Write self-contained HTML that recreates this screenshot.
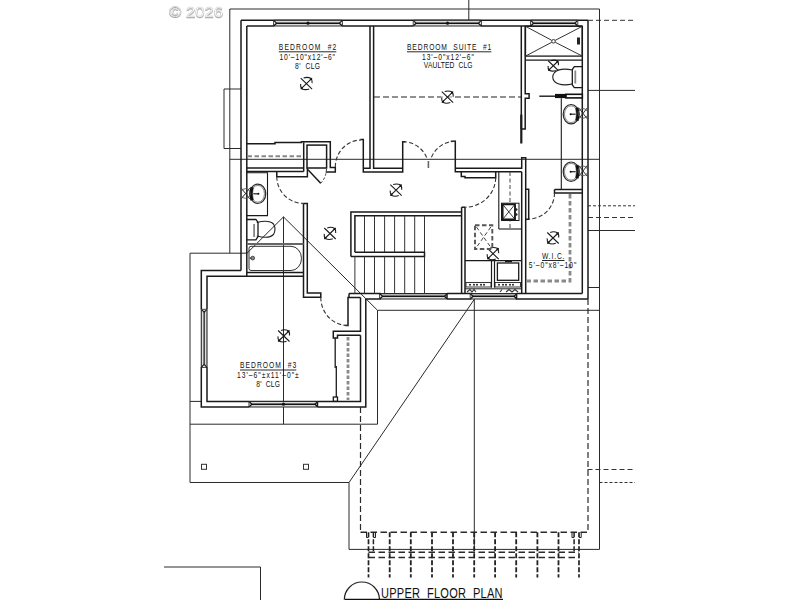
<!DOCTYPE html>
<html><head><meta charset="utf-8"><style>
html,body{margin:0;padding:0;background:#fff;width:800px;height:600px;overflow:hidden}
svg{position:absolute;left:0;top:0}
text{font-family:"Liberation Sans",sans-serif}
</style></head><body>
<svg width="800" height="600" viewBox="0 0 800 600">
<polyline points="190,482.5 190,253.2 229.8,253.2 229.8,9 599.5,9 599.5,549.4 349,549.4 349,482.5 190,482.5" fill="none" stroke="#2a2a2a" stroke-width="1.0"/>
<line x1="349" y1="482.5" x2="474.3" y2="299.3" stroke="#2a2a2a" stroke-width="1.0"/>
<line x1="229.8" y1="159.3" x2="599.5" y2="159.3" stroke="#2a2a2a" stroke-width="1.0"/>
<line x1="229.8" y1="253.2" x2="247" y2="253.2" stroke="#2a2a2a" stroke-width="1.0"/>
<polyline points="247,253.2 283.5,216.9 377.5,310.3" fill="none" stroke="#2a2a2a" stroke-width="1.0"/>
<line x1="283.5" y1="216.9" x2="283.5" y2="424.2" stroke="#2a2a2a" stroke-width="1.0"/>
<line x1="190" y1="424.2" x2="377.5" y2="424.2" stroke="#2a2a2a" stroke-width="1.0"/>
<line x1="377.5" y1="424.2" x2="377.5" y2="310.3" stroke="#2a2a2a" stroke-width="1.0"/>
<line x1="377.5" y1="310.3" x2="599.5" y2="310.3" stroke="#2a2a2a" stroke-width="1.0"/>
<line x1="588" y1="287.5" x2="599.5" y2="287.5" stroke="#2a2a2a" stroke-width="1.0"/>
<line x1="474.3" y1="299.3" x2="474.3" y2="549.4" stroke="#2a2a2a" stroke-width="1.0"/>
<line x1="468.8" y1="0" x2="468.8" y2="20.3" stroke="#2a2a2a" stroke-width="1.0"/>
<line x1="190" y1="401.4" x2="201.4" y2="401.4" stroke="#2a2a2a" stroke-width="1.0"/>
<line x1="229.8" y1="148.5" x2="241" y2="148.5" stroke="#2a2a2a" stroke-width="1.0"/>
<polyline points="241,89 224,89 224,148.5 241,148.5" fill="none" stroke="#2a2a2a" stroke-width="1.0"/>
<line x1="588" y1="90.4" x2="635" y2="90.4" stroke="#2a2a2a" stroke-width="1.0"/>
<line x1="588" y1="230.5" x2="635" y2="230.5" stroke="#2a2a2a" stroke-width="1.0"/>
<line x1="588" y1="20.3" x2="635" y2="20.3" stroke="#333" stroke-width="1.0" stroke-dasharray="5,3"/>
<line x1="588" y1="205.8" x2="635" y2="205.8" stroke="#333" stroke-width="1.0" stroke-dasharray="3,2"/>
<line x1="588" y1="217.5" x2="635" y2="217.5" stroke="#333" stroke-width="1.0" stroke-dasharray="5,3"/>
<line x1="587.5" y1="469.5" x2="635" y2="469.5" stroke="#333" stroke-width="1.0" stroke-dasharray="5,3"/>
<line x1="599.5" y1="482.5" x2="635" y2="482.5" stroke="#333" stroke-width="1.0" stroke-dasharray="3,2"/>
<polyline points="164,567 260.5,567 260.5,600" fill="none" stroke="#2a2a2a" stroke-width="1.0"/>
<line x1="241" y1="20.3" x2="588" y2="20.3" stroke="#1a1a1a" stroke-width="1.5"/>
<line x1="246.8" y1="26" x2="274" y2="26" stroke="#1a1a1a" stroke-width="1.5"/>
<line x1="274" y1="20.3" x2="274" y2="26" stroke="#1a1a1a" stroke-width="1.5"/>
<line x1="342" y1="26" x2="413.5" y2="26" stroke="#1a1a1a" stroke-width="1.5"/>
<line x1="342" y1="20.3" x2="342" y2="26" stroke="#1a1a1a" stroke-width="1.5"/>
<line x1="413.5" y1="20.3" x2="413.5" y2="26" stroke="#1a1a1a" stroke-width="1.5"/>
<line x1="481" y1="26" x2="531" y2="26" stroke="#1a1a1a" stroke-width="1.5"/>
<line x1="481" y1="20.3" x2="481" y2="26" stroke="#1a1a1a" stroke-width="1.5"/>
<line x1="531" y1="20.3" x2="531" y2="26" stroke="#1a1a1a" stroke-width="1.5"/>
<line x1="577.5" y1="26" x2="582.3" y2="26" stroke="#1a1a1a" stroke-width="1.5"/>
<line x1="577.5" y1="20.3" x2="577.5" y2="26" stroke="#1a1a1a" stroke-width="1.5"/>
<rect x="274" y="20.3" width="68" height="5.699999999999999" rx="0" fill="#dcdcdc" stroke="none" stroke-width="0"/>
<line x1="274" y1="20.3" x2="342" y2="20.3" stroke="#2a2a2a" stroke-width="1.1"/>
<line x1="274" y1="26" x2="342" y2="26" stroke="#2a2a2a" stroke-width="1.1"/>
<line x1="276.5" y1="23.15" x2="339.5" y2="23.15" stroke="#111" stroke-width="1.5"/>
<polyline points="274,20.6 276.6,23.15 274,25.7" fill="none" stroke="#111" stroke-width="1.2"/>
<polyline points="342,20.6 339.4,23.15 342,25.7" fill="none" stroke="#111" stroke-width="1.2"/>
<rect x="413.5" y="20.3" width="67.5" height="5.699999999999999" rx="0" fill="#dcdcdc" stroke="none" stroke-width="0"/>
<line x1="413.5" y1="20.3" x2="481" y2="20.3" stroke="#2a2a2a" stroke-width="1.1"/>
<line x1="413.5" y1="26" x2="481" y2="26" stroke="#2a2a2a" stroke-width="1.1"/>
<line x1="416.0" y1="23.15" x2="478.5" y2="23.15" stroke="#111" stroke-width="1.5"/>
<polyline points="413.5,20.6 416.1,23.15 413.5,25.7" fill="none" stroke="#111" stroke-width="1.2"/>
<polyline points="481,20.6 478.4,23.15 481,25.7" fill="none" stroke="#111" stroke-width="1.2"/>
<rect x="531" y="20.3" width="46.5" height="5.699999999999999" rx="0" fill="#dcdcdc" stroke="none" stroke-width="0"/>
<line x1="531" y1="20.3" x2="577.5" y2="20.3" stroke="#2a2a2a" stroke-width="1.1"/>
<line x1="531" y1="26" x2="577.5" y2="26" stroke="#2a2a2a" stroke-width="1.1"/>
<line x1="533.5" y1="23.15" x2="575.0" y2="23.15" stroke="#111" stroke-width="1.5"/>
<polyline points="531,20.6 533.6,23.15 531,25.7" fill="none" stroke="#111" stroke-width="1.2"/>
<polyline points="577.5,20.6 574.9,23.15 577.5,25.7" fill="none" stroke="#111" stroke-width="1.2"/>
<line x1="241" y1="20.3" x2="241" y2="270.6" stroke="#1a1a1a" stroke-width="1.5"/>
<line x1="246.8" y1="26" x2="246.8" y2="276" stroke="#1a1a1a" stroke-width="1.5"/>
<line x1="588" y1="20.3" x2="588" y2="299" stroke="#1a1a1a" stroke-width="1.5"/>
<line x1="582.3" y1="26" x2="582.3" y2="293.4" stroke="#1a1a1a" stroke-width="1.5"/>
<polyline points="241,270.6 201.3,270.6 201.3,309.6" fill="none" stroke="#1a1a1a" stroke-width="1.5"/>
<polyline points="201.3,367 201.3,407 249.3,407" fill="none" stroke="#1a1a1a" stroke-width="1.5"/>
<polyline points="303.5,276.3 207,276.3 207,309.6" fill="none" stroke="#1a1a1a" stroke-width="1.5"/>
<polyline points="207,367 207,401.4 249.3,401.4" fill="none" stroke="#1a1a1a" stroke-width="1.5"/>
<line x1="201.3" y1="309.6" x2="207" y2="309.6" stroke="#1a1a1a" stroke-width="1.5"/>
<line x1="201.3" y1="367" x2="207" y2="367" stroke="#1a1a1a" stroke-width="1.5"/>
<rect x="201.3" y="309.6" width="5.699999999999989" height="57.39999999999998" rx="0" fill="#dcdcdc" stroke="none" stroke-width="0"/>
<line x1="201.3" y1="309.6" x2="201.3" y2="367" stroke="#2a2a2a" stroke-width="1.1"/>
<line x1="207" y1="309.6" x2="207" y2="367" stroke="#2a2a2a" stroke-width="1.1"/>
<line x1="204.15" y1="312.1" x2="204.15" y2="364.5" stroke="#222" stroke-width="1.3"/>
<polyline points="201.60000000000002,309.6 204.15,312.20000000000005 206.7,309.6" fill="none" stroke="#222" stroke-width="1.1"/>
<polyline points="201.60000000000002,367 204.15,364.4 206.7,367" fill="none" stroke="#222" stroke-width="1.1"/>
<polyline points="249.3,401.4 249.3,407" fill="none" stroke="#1a1a1a" stroke-width="1.5"/>
<rect x="249.3" y="401.4" width="68.19999999999999" height="5.600000000000023" rx="0" fill="#dcdcdc" stroke="none" stroke-width="0"/>
<line x1="249.3" y1="401.4" x2="317.5" y2="401.4" stroke="#2a2a2a" stroke-width="1.1"/>
<line x1="249.3" y1="407" x2="317.5" y2="407" stroke="#2a2a2a" stroke-width="1.1"/>
<line x1="251.8" y1="404.2" x2="315.0" y2="404.2" stroke="#111" stroke-width="1.5"/>
<polyline points="249.3,401.7 251.9,404.2 249.3,406.7" fill="none" stroke="#111" stroke-width="1.2"/>
<polyline points="317.5,401.7 314.9,404.2 317.5,406.7" fill="none" stroke="#111" stroke-width="1.2"/>
<polyline points="317.5,401.4 317.5,407" fill="none" stroke="#1a1a1a" stroke-width="1.5"/>
<polyline points="317.5,407 365.8,407 365.8,299" fill="none" stroke="#1a1a1a" stroke-width="1.5"/>
<polyline points="317.5,401.4 360.5,401.4 360.5,335.3" fill="none" stroke="#1a1a1a" stroke-width="1.5"/>
<polyline points="349,293.6 380,293.6 380,299 365.8,299" fill="none" stroke="#1a1a1a" stroke-width="1.5"/>
<rect x="380" y="293.6" width="67" height="5.399999999999977" rx="0" fill="#dcdcdc" stroke="none" stroke-width="0"/>
<line x1="380" y1="293.6" x2="447" y2="293.6" stroke="#2a2a2a" stroke-width="1.1"/>
<line x1="380" y1="299" x2="447" y2="299" stroke="#2a2a2a" stroke-width="1.1"/>
<line x1="382.5" y1="296.3" x2="444.5" y2="296.3" stroke="#111" stroke-width="1.5"/>
<polyline points="380,293.90000000000003 382.6,296.3 380,298.7" fill="none" stroke="#111" stroke-width="1.2"/>
<polyline points="447,293.90000000000003 444.4,296.3 447,298.7" fill="none" stroke="#111" stroke-width="1.2"/>
<polyline points="447,293.6 447,299" fill="none" stroke="#1a1a1a" stroke-width="1.5"/>
<polyline points="447,293.6 470.5,293.6 470.5,299 447,299" fill="none" stroke="#1a1a1a" stroke-width="1.5"/>
<rect x="470.5" y="293.6" width="46.10000000000002" height="5.399999999999977" rx="0" fill="#dcdcdc" stroke="none" stroke-width="0"/>
<line x1="470.5" y1="293.6" x2="516.6" y2="293.6" stroke="#2a2a2a" stroke-width="1.1"/>
<line x1="470.5" y1="299" x2="516.6" y2="299" stroke="#2a2a2a" stroke-width="1.1"/>
<line x1="473.0" y1="296.3" x2="514.1" y2="296.3" stroke="#111" stroke-width="1.5"/>
<polyline points="470.5,293.90000000000003 473.1,296.3 470.5,298.7" fill="none" stroke="#111" stroke-width="1.2"/>
<polyline points="516.6,293.90000000000003 514.0,296.3 516.6,298.7" fill="none" stroke="#111" stroke-width="1.2"/>
<polyline points="516.6,293.6 516.6,299 588,299" fill="none" stroke="#1a1a1a" stroke-width="1.5"/>
<polyline points="516.6,293.6 582.3,293.6" fill="none" stroke="#1a1a1a" stroke-width="1.5"/>
<polyline points="360.4,139.6 363.3,139.6 363.3,172.1 402.7,172.1 402.7,141.7 405.5,141.7" fill="none" stroke="#1a1a1a" stroke-width="1.5"/>
<polyline points="363.3,168.3 370,168.3 370,26" fill="none" stroke="#1a1a1a" stroke-width="1.5"/>
<polyline points="373.6,26 373.6,168.3 402.7,168.3" fill="none" stroke="#1a1a1a" stroke-width="1.5"/>
<polyline points="450.8,141.3 455.3,141.3 455.3,171.8 521.7,171.8" fill="none" stroke="#1a1a1a" stroke-width="1.5"/>
<polyline points="455.3,168.3 521.7,168.3 521.7,157.8 525.7,157.8 525.7,293.6" fill="none" stroke="#1a1a1a" stroke-width="1.5"/>
<polyline points="525.7,189.3 528.7,189.3 528.7,219.3 525.7,219.3" fill="none" stroke="#1a1a1a" stroke-width="1.5"/>
<polyline points="461.3,171.8 461.3,176.6 465,176.6 465,177.7 495.7,177.7 495.7,171.8" fill="none" stroke="#1a1a1a" stroke-width="1.5"/>
<polyline points="521.3,26 521.3,129" fill="none" stroke="#1a1a1a" stroke-width="1.5"/>
<polyline points="525.2,26 525.2,93.8 529.1,93.8 529.1,98.3 525.2,98.3 525.2,129 521.3,129" fill="none" stroke="#1a1a1a" stroke-width="1.5"/>
<line x1="521.3" y1="114.6" x2="521.3" y2="143.5" stroke="#1a1a1a" stroke-width="2.2"/>
<line x1="521.7" y1="171.8" x2="521.7" y2="293.6" stroke="#1a1a1a" stroke-width="1.5"/>
<polyline points="461.6,207.2 461.6,293.6" fill="none" stroke="#1a1a1a" stroke-width="1.5"/>
<polyline points="465,207.2 461.6,207.2" fill="none" stroke="#1a1a1a" stroke-width="1.5"/>
<polyline points="465,207.2 465,293.6" fill="none" stroke="#1a1a1a" stroke-width="1.5"/>
<polyline points="554.5,189.5 582.3,189.5" fill="none" stroke="#1a1a1a" stroke-width="1.5"/>
<polyline points="554.5,189.5 554.5,193 582.3,193" fill="none" stroke="#1a1a1a" stroke-width="1.5"/>
<polyline points="246.8,143.7 275,143.7 275,142.6 301.4,142.6 301.4,141.7 330.3,141.7 330.3,167.5 335.3,167.5 335.3,172.1 325.7,172.1" fill="none" stroke="#1a1a1a" stroke-width="1.5"/>
<rect x="307" y="145.1" width="19.6" height="22.9" rx="0" fill="none" stroke="#1a1a1a" stroke-width="1.5"/>
<polyline points="303.7,142.3 303.7,171.5" fill="none" stroke="#1a1a1a" stroke-width="1.5"/>
<polyline points="246.8,168 303.7,168" fill="none" stroke="#1a1a1a" stroke-width="1.5"/>
<polyline points="246.8,171.5 303.7,171.5" fill="none" stroke="#1a1a1a" stroke-width="1.5"/>
<polyline points="276.8,171.5 276.8,176.7 307.4,176.7 307.4,168" fill="none" stroke="#1a1a1a" stroke-width="1.5"/>
<line x1="247.5" y1="156.3" x2="302" y2="156.3" stroke="#888" stroke-width="2.0" stroke-dasharray="4.5,2.5"/>
<polyline points="303.5,203.4 303.5,297.2 320.8,297.2 320.8,293 307.3,293 307.3,203.4 303.5,203.4" fill="none" stroke="#1a1a1a" stroke-width="1.5"/>
<polyline points="345.3,325.5 348,325.5 348,297.5 360.5,297.5" fill="none" stroke="#1a1a1a" stroke-width="1.5"/>
<polyline points="349,293.6 349,297.5" fill="none" stroke="#1a1a1a" stroke-width="1.5"/>
<polyline points="360.5,297.5 360.5,331.2 333.3,331.2 333.3,338 337.5,338 337.5,335.3 360.5,335.3" fill="none" stroke="#1a1a1a" stroke-width="1.5"/>
<rect x="333.3" y="397" width="4.2" height="4.4" rx="0" fill="none" stroke="#1a1a1a" stroke-width="1.3"/>
<line x1="335.2" y1="338" x2="335.2" y2="368" stroke="#1a1a1a" stroke-width="1.3"/>
<line x1="336.3" y1="366" x2="336.3" y2="397" stroke="#1a1a1a" stroke-width="1.3"/>
<line x1="348" y1="337" x2="348" y2="400" stroke="#8a8a8a" stroke-width="2.8" stroke-dasharray="3.5,2"/>
<polyline points="246.5,272.4 303.5,272.4" fill="none" stroke="#1a1a1a" stroke-width="1.5"/>
<path d="M 276.8 176.7 A 26.7 26.7 0 0 0 303.5 203.4" fill="none" stroke="#333" stroke-width="1.1" stroke-dasharray="4.2,2.3"/>
<path d="M 335.3 167 A 26 27 0 0 1 361 140" fill="none" stroke="#333" stroke-width="1.1" stroke-dasharray="4.2,2.3"/>
<path d="M 402.7 141.7 A 26 26 0 0 1 427.4 159.5" fill="none" stroke="#333" stroke-width="1.1" stroke-dasharray="4.2,2.3"/>
<path d="M 455.3 141.3 A 26 26 0 0 0 430.6 159.5" fill="none" stroke="#333" stroke-width="1.1" stroke-dasharray="4.2,2.3"/>
<line x1="428.4" y1="161" x2="428.4" y2="168" stroke="#666" stroke-width="1.6"/>
<path d="M 495.7 177.7 A 30.7 30 0 0 1 465 207.2" fill="none" stroke="#333" stroke-width="1.1" stroke-dasharray="4.2,2.3"/>
<path d="M 320.8 297.2 A 27 28 0 0 0 347.8 325.5" fill="none" stroke="#333" stroke-width="1.1" stroke-dasharray="4.2,2.3"/>
<path d="M 554.5 193 A 25.8 26 0 0 1 528.7 219" fill="none" stroke="#333" stroke-width="1.1" stroke-dasharray="4.2,2.3"/>
<line x1="308" y1="169.8" x2="320.7" y2="183.3" stroke="#1a1a1a" stroke-width="1.5"/>
<path d="M 320.7 183.3 Q 326 178 326.5 169" fill="none" stroke="#333" stroke-width="1.0" stroke-dasharray="2.5,2"/>
<line x1="374" y1="97" x2="521" y2="97" stroke="#222" stroke-width="1.2" stroke-dasharray="6,3"/>
<line x1="441" y1="97" x2="454" y2="97" stroke="#fff" stroke-width="1.0"/>
<polyline points="350.9,256.4 350.9,211.9 461.6,211.9" fill="none" stroke="#1a1a1a" stroke-width="1.5"/>
<polyline points="354.9,252.2 354.9,215.8 461.6,215.8" fill="none" stroke="#1a1a1a" stroke-width="1.5"/>
<polyline points="350.9,256.4 424.5,256.4 424.5,252.2 354.9,252.2" fill="none" stroke="#1a1a1a" stroke-width="1.5"/>
<line x1="364.5" y1="215.8" x2="364.5" y2="252.2" stroke="#333" stroke-width="1.0"/>
<line x1="364.5" y1="256.4" x2="364.5" y2="293.6" stroke="#333" stroke-width="1.0"/>
<line x1="374.5" y1="215.8" x2="374.5" y2="252.2" stroke="#333" stroke-width="1.0"/>
<line x1="374.5" y1="256.4" x2="374.5" y2="293.6" stroke="#333" stroke-width="1.0"/>
<line x1="384.6" y1="215.8" x2="384.6" y2="252.2" stroke="#333" stroke-width="1.0"/>
<line x1="384.6" y1="256.4" x2="384.6" y2="293.6" stroke="#333" stroke-width="1.0"/>
<line x1="394.6" y1="215.8" x2="394.6" y2="252.2" stroke="#333" stroke-width="1.0"/>
<line x1="394.6" y1="256.4" x2="394.6" y2="293.6" stroke="#333" stroke-width="1.0"/>
<line x1="404.7" y1="215.8" x2="404.7" y2="252.2" stroke="#333" stroke-width="1.0"/>
<line x1="404.7" y1="256.4" x2="404.7" y2="293.6" stroke="#333" stroke-width="1.0"/>
<line x1="414.7" y1="215.8" x2="414.7" y2="252.2" stroke="#333" stroke-width="1.0"/>
<line x1="414.7" y1="256.4" x2="414.7" y2="293.6" stroke="#333" stroke-width="1.0"/>
<line x1="424.5" y1="215.8" x2="424.5" y2="252.2" stroke="#333" stroke-width="1.0"/>
<line x1="424.5" y1="256.4" x2="424.5" y2="293.6" stroke="#333" stroke-width="1.0"/>
<line x1="354.9" y1="256.4" x2="354.9" y2="293.6" stroke="#333" stroke-width="1.0"/>
<path d="M 300.7 78.1 L 312.09999999999997 89.1 M 312.09999999999997 78.1 L 300.7 89.1" fill="none" stroke="#1a1a1a" stroke-width="1.1"/>
<path d="M 303.59999999999997 78.0 Q 307.4 76.6 311.2 78.5 Q 312.4 80.3 312.09999999999997 83.1" fill="none" stroke="#1a1a1a" stroke-width="1.1"/>
<path d="M 309.2 88.89999999999999 Q 305.4 90.39999999999999 301.59999999999997 88.69999999999999 Q 300.4 86.89999999999999 300.59999999999997 84.0" fill="none" stroke="#1a1a1a" stroke-width="1.1"/>
<circle cx="310.7" cy="79.3" r="0.9" fill="#111" stroke="none" stroke-width="0"/>
<circle cx="302.09999999999997" cy="87.89999999999999" r="0.9" fill="#111" stroke="none" stroke-width="0"/>
<path d="M 441.8 91.7 L 453.2 102.7 M 453.2 91.7 L 441.8 102.7" fill="none" stroke="#1a1a1a" stroke-width="1.1"/>
<path d="M 444.7 91.60000000000001 Q 448.5 90.2 452.3 92.10000000000001 Q 453.5 93.9 453.2 96.7" fill="none" stroke="#1a1a1a" stroke-width="1.1"/>
<path d="M 450.3 102.5 Q 446.5 104.0 442.7 102.3 Q 441.5 100.5 441.7 97.60000000000001" fill="none" stroke="#1a1a1a" stroke-width="1.1"/>
<circle cx="451.8" cy="92.9" r="0.9" fill="#111" stroke="none" stroke-width="0"/>
<circle cx="443.2" cy="101.5" r="0.9" fill="#111" stroke="none" stroke-width="0"/>
<path d="M 390.3 184.7 L 401.7 195.7 M 401.7 184.7 L 390.3 195.7" fill="none" stroke="#1a1a1a" stroke-width="1.1"/>
<path d="M 393.2 184.6 Q 397.0 183.2 400.8 185.1 Q 402.0 186.89999999999998 401.7 189.7" fill="none" stroke="#1a1a1a" stroke-width="1.1"/>
<path d="M 398.8 195.5 Q 395.0 197.0 391.2 195.29999999999998 Q 390.0 193.5 390.2 190.6" fill="none" stroke="#1a1a1a" stroke-width="1.1"/>
<circle cx="400.3" cy="185.89999999999998" r="0.9" fill="#111" stroke="none" stroke-width="0"/>
<circle cx="391.7" cy="194.5" r="0.9" fill="#111" stroke="none" stroke-width="0"/>
<path d="M 324.3 228.0 L 335.7 239.0 M 335.7 228.0 L 324.3 239.0" fill="none" stroke="#1a1a1a" stroke-width="1.1"/>
<path d="M 327.2 227.9 Q 331.0 226.5 334.8 228.4 Q 336.0 230.2 335.7 233.0" fill="none" stroke="#1a1a1a" stroke-width="1.1"/>
<path d="M 332.8 238.8 Q 329.0 240.3 325.2 238.6 Q 324.0 236.8 324.2 233.9" fill="none" stroke="#1a1a1a" stroke-width="1.1"/>
<circle cx="334.3" cy="229.2" r="0.9" fill="#111" stroke="none" stroke-width="0"/>
<circle cx="325.7" cy="237.8" r="0.9" fill="#111" stroke="none" stroke-width="0"/>
<path d="M 547.3 232.5 L 558.7 243.5 M 558.7 232.5 L 547.3 243.5" fill="none" stroke="#1a1a1a" stroke-width="1.1"/>
<path d="M 550.2 232.4 Q 554.0 231.0 557.8 232.9 Q 559.0 234.7 558.7 237.5" fill="none" stroke="#1a1a1a" stroke-width="1.1"/>
<path d="M 555.8 243.3 Q 552.0 244.8 548.2 243.1 Q 547.0 241.3 547.2 238.4" fill="none" stroke="#1a1a1a" stroke-width="1.1"/>
<circle cx="557.3" cy="233.7" r="0.9" fill="#111" stroke="none" stroke-width="0"/>
<circle cx="548.7" cy="242.3" r="0.9" fill="#111" stroke="none" stroke-width="0"/>
<path d="M 487.3 248.2 L 498.7 259.2 M 498.7 248.2 L 487.3 259.2" fill="none" stroke="#1a1a1a" stroke-width="1.1"/>
<path d="M 490.2 248.1 Q 494.0 246.7 497.8 248.6 Q 499.0 250.39999999999998 498.7 253.2" fill="none" stroke="#1a1a1a" stroke-width="1.1"/>
<path d="M 495.8 259.0 Q 492.0 260.5 488.2 258.8 Q 487.0 257.0 487.2 254.1" fill="none" stroke="#1a1a1a" stroke-width="1.1"/>
<circle cx="497.3" cy="249.39999999999998" r="0.9" fill="#111" stroke="none" stroke-width="0"/>
<circle cx="488.7" cy="258.0" r="0.9" fill="#111" stroke="none" stroke-width="0"/>
<path d="M 278.1 330.5 L 289.5 341.5 M 289.5 330.5 L 278.1 341.5" fill="none" stroke="#1a1a1a" stroke-width="1.1"/>
<path d="M 281.0 330.4 Q 284.8 329.0 288.6 330.9 Q 289.8 332.7 289.5 335.5" fill="none" stroke="#1a1a1a" stroke-width="1.1"/>
<path d="M 286.6 341.3 Q 282.8 342.8 279.0 341.1 Q 277.8 339.3 278.0 336.4" fill="none" stroke="#1a1a1a" stroke-width="1.1"/>
<circle cx="288.1" cy="331.7" r="0.9" fill="#111" stroke="none" stroke-width="0"/>
<circle cx="279.5" cy="340.3" r="0.9" fill="#111" stroke="none" stroke-width="0"/>
<path d="M 548.17 60.75 L 558.43 70.65 M 558.43 60.75 L 548.17 70.65" fill="none" stroke="#1a1a1a" stroke-width="1.1"/>
<path d="M 550.78 60.660000000000004 Q 554.1999999999999 59.400000000000006 557.62 61.11 Q 558.6999999999999 62.730000000000004 558.43 65.25" fill="none" stroke="#1a1a1a" stroke-width="1.1"/>
<path d="M 555.8199999999999 70.47 Q 552.4 71.82000000000001 548.9799999999999 70.29 Q 547.9 68.67 548.0799999999999 66.06" fill="none" stroke="#1a1a1a" stroke-width="1.1"/>
<circle cx="557.17" cy="61.830000000000005" r="0.81" fill="#111" stroke="none" stroke-width="0"/>
<circle cx="549.43" cy="69.57000000000001" r="0.81" fill="#111" stroke="none" stroke-width="0"/>
<rect x="525.5" y="26.3" width="56.8" height="29.8" rx="0" fill="none" stroke="#1a1a1a" stroke-width="1.3"/>
<line x1="525.5" y1="60.1" x2="582.3" y2="60.1" stroke="#1a1a1a" stroke-width="1.3"/>
<line x1="525.5" y1="26.3" x2="551.7" y2="40.3" stroke="#333" stroke-width="1.0"/>
<line x1="582.3" y1="26.3" x2="555.3" y2="40.3" stroke="#333" stroke-width="1.0"/>
<line x1="525.5" y1="56.1" x2="551.7" y2="42.3" stroke="#333" stroke-width="1.0"/>
<line x1="582.3" y1="56.1" x2="555.3" y2="42.3" stroke="#333" stroke-width="1.0"/>
<circle cx="553.5" cy="41.3" r="1.8" fill="none" stroke="#333" stroke-width="1.0"/>
<rect x="577" y="37.5" width="3" height="7" rx="0" fill="#222" stroke="none" stroke-width="0"/>
<path d="M 572.3 70 Q 560 67.5 554.5 72.5 Q 551 77 554.5 81.5 Q 560 86.5 572.3 84" fill="none" stroke="#222" stroke-width="1.1"/>
<polyline points="582.3,66.7 574.3,66.7 572.3,69.5 572.3,84.8 574.3,87.6 582.3,87.6" fill="none" stroke="#1a1a1a" stroke-width="1.3"/>
<line x1="575.3" y1="70.5" x2="575.3" y2="83.5" stroke="#888" stroke-width="1.8"/>
<line x1="539.3" y1="96.2" x2="555" y2="96.2" stroke="#1a1a1a" stroke-width="1.4"/>
<rect x="555" y="93.9" width="11" height="4.2" rx="0" fill="#111" stroke="none" stroke-width="0"/>
<rect x="566" y="94.3" width="16.3" height="3.6" rx="0" fill="#fff" stroke="#111" stroke-width="1.6"/>
<line x1="561.3" y1="98.3" x2="561.3" y2="189.5" stroke="#1a1a1a" stroke-width="1.1"/>
<ellipse cx="571.1" cy="114.2" rx="7.9" ry="9.7" fill="none" stroke="#2a2a2a" stroke-width="1.2"/>
<ellipse cx="571.1" cy="114.2" rx="6.6" ry="8.4" fill="none" stroke="#666" stroke-width="0.8"/>
<path d="M 575.7 108.2 Q 577.3000000000001 114.2 575.7 120.2 L 578.3000000000001 120.7 Q 580.3000000000001 114.2 578.3000000000001 107.7 Z" fill="#111" stroke="#111" stroke-width="0.6"/>
<line x1="570.6" y1="114.2" x2="575.7" y2="114.2" stroke="#222" stroke-width="1.2"/>
<circle cx="570.6" cy="114.2" r="1.0" fill="#111" stroke="none" stroke-width="0"/>
<path d="M 578.8 108.0 L 587.2 118.80000000000001 M 587.2 108.0 L 578.8 118.80000000000001" fill="none" stroke="#333" stroke-width="1.0"/>
<circle cx="583" cy="113.4" r="4.8" fill="none" stroke="#555" stroke-width="0.9"/>
<ellipse cx="571.1" cy="171.7" rx="7.9" ry="9.7" fill="none" stroke="#2a2a2a" stroke-width="1.2"/>
<ellipse cx="571.1" cy="171.7" rx="6.6" ry="8.4" fill="none" stroke="#666" stroke-width="0.8"/>
<path d="M 575.7 165.7 Q 577.3000000000001 171.7 575.7 177.7 L 578.3000000000001 178.2 Q 580.3000000000001 171.7 578.3000000000001 165.2 Z" fill="#111" stroke="#111" stroke-width="0.6"/>
<line x1="570.6" y1="171.7" x2="575.7" y2="171.7" stroke="#222" stroke-width="1.2"/>
<circle cx="570.6" cy="171.7" r="1.0" fill="#111" stroke="none" stroke-width="0"/>
<path d="M 578.8 165.49999999999997 L 587.2 176.29999999999998 M 587.2 165.49999999999997 L 578.8 176.29999999999998" fill="none" stroke="#333" stroke-width="1.0"/>
<circle cx="583" cy="170.89999999999998" r="4.8" fill="none" stroke="#555" stroke-width="0.9"/>
<polyline points="246.8,172.8 267.5,172.8 267.5,215.6 246.8,215.6" fill="none" stroke="#1a1a1a" stroke-width="1.1"/>
<ellipse cx="257.85" cy="193.8" rx="7.9" ry="9.7" fill="none" stroke="#2a2a2a" stroke-width="1.2"/>
<ellipse cx="257.85" cy="193.8" rx="6.6" ry="8.4" fill="none" stroke="#666" stroke-width="0.8"/>
<path d="M 253.25000000000003 187.8 Q 251.65000000000003 193.8 253.25000000000003 199.8 L 250.65000000000003 200.3 Q 248.65000000000003 193.8 250.65000000000003 187.3 Z" fill="#111" stroke="#111" stroke-width="0.6"/>
<line x1="258.35" y1="193.8" x2="253.25000000000003" y2="193.8" stroke="#222" stroke-width="1.2"/>
<circle cx="258.35" cy="193.8" r="1.0" fill="#111" stroke="none" stroke-width="0"/>
<path d="M 241.3 188.1 L 249.7 198.9 M 249.7 188.1 L 241.3 198.9" fill="none" stroke="#333" stroke-width="1.0"/>
<circle cx="245.5" cy="193.5" r="4.8" fill="none" stroke="#555" stroke-width="0.9"/>
<path d="M 256.8 222.5 Q 269 219.5 273.5 224 Q 276.5 229.3 273.5 234.5 Q 269 239 256.8 236" fill="none" stroke="#222" stroke-width="1.1"/>
<polyline points="246.8,219.5 255.9,219.5 258,222.5 258,236.6 255.9,239.9 246.8,239.9" fill="none" stroke="#1a1a1a" stroke-width="1.3"/>
<line x1="254.1" y1="224" x2="254.1" y2="237" stroke="#888" stroke-width="1.8"/>
<line x1="246.8" y1="244.1" x2="303.5" y2="244.1" stroke="#666" stroke-width="2.0"/>
<path d="M 251 246.3 L 291 246.3 A 10.5 12.1 0 0 1 291 270.5 L 251 270.5 Q 249 270.5 249 268.5 L 249 248.3 Q 249 246.3 251 246.3 Z" fill="none" stroke="#333" stroke-width="1.0"/>
<circle cx="252.7" cy="258.1" r="1.9" fill="#888" stroke="#333" stroke-width="0.8"/>
<line x1="249.5" y1="258.1" x2="251.5" y2="258.1" stroke="#333" stroke-width="1.2"/>
<line x1="498.8" y1="172" x2="498.8" y2="229" stroke="#1a1a1a" stroke-width="1.1"/>
<line x1="498.8" y1="229" x2="521.5" y2="229" stroke="#1a1a1a" stroke-width="1.1"/>
<line x1="510" y1="172" x2="510" y2="229" stroke="#444" stroke-width="1.0" stroke-dasharray="4,2.5"/>
<rect x="501.5" y="203.2" width="17.5" height="17.3" rx="0" fill="#fff" stroke="#1a1a1a" stroke-width="1.0"/>
<rect x="502.6" y="204.3" width="12.4" height="15.1" rx="0" fill="none" stroke="#1a1a1a" stroke-width="1.9"/>
<path d="M 502.6 204.3 L 515 219.4 M 515 204.3 L 502.6 219.4" fill="none" stroke="#222" stroke-width="0.9"/>
<circle cx="516.3" cy="209.5" r="1.2" fill="#222" stroke="none" stroke-width="0"/>
<circle cx="516.3" cy="214.5" r="1.2" fill="#222" stroke="none" stroke-width="0"/>
<rect x="475" y="225.3" width="17.3" height="23.7" rx="0" fill="none" stroke="#555" stroke-width="1.9" stroke-dasharray="4.5,2.5"/>
<path d="M 476.5 227 L 490.8 247.3 M 490.8 227 L 476.5 247.3" fill="none" stroke="#444" stroke-width="1.0" stroke-dasharray="4,2.5"/>
<line x1="465" y1="260.7" x2="521.5" y2="260.7" stroke="#1a1a1a" stroke-width="1.3"/>
<line x1="491.5" y1="260.7" x2="491.5" y2="287.7" stroke="#1a1a1a" stroke-width="1.2"/>
<line x1="494.5" y1="260.7" x2="494.5" y2="287.7" stroke="#1a1a1a" stroke-width="1.2"/>
<rect x="497.4" y="263" width="21.3" height="17.3" rx="0" fill="none" stroke="#1a1a1a" stroke-width="1.3"/>
<line x1="505" y1="261.5" x2="512" y2="261.5" stroke="#1a1a1a" stroke-width="1.5"/>
<rect x="466" y="282.5" width="25" height="4.5" rx="0" fill="none" stroke="#222" stroke-width="0.9"/>
<circle cx="470" cy="284.8" r="1.0" fill="#222" stroke="none" stroke-width="0"/>
<circle cx="474" cy="284.8" r="1.0" fill="#222" stroke="none" stroke-width="0"/>
<circle cx="477" cy="284.8" r="1.0" fill="#222" stroke="none" stroke-width="0"/>
<circle cx="481" cy="284.8" r="1.0" fill="#222" stroke="none" stroke-width="0"/>
<circle cx="484" cy="284.8" r="1.0" fill="#222" stroke="none" stroke-width="0"/>
<rect x="495" y="282.5" width="25.5" height="4.5" rx="0" fill="none" stroke="#222" stroke-width="0.9"/>
<circle cx="499" cy="284.8" r="1.0" fill="#222" stroke="none" stroke-width="0"/>
<circle cx="503" cy="284.8" r="1.0" fill="#222" stroke="none" stroke-width="0"/>
<circle cx="506" cy="284.8" r="1.0" fill="#222" stroke="none" stroke-width="0"/>
<circle cx="510" cy="284.8" r="1.0" fill="#222" stroke="none" stroke-width="0"/>
<circle cx="513" cy="284.8" r="1.0" fill="#222" stroke="none" stroke-width="0"/>
<line x1="465" y1="288.8" x2="521.5" y2="288.8" stroke="#222" stroke-width="1.0"/>
<path d="M 467 292 L 470 289.5 L 472 292 L 474 289.5 L 476 292" fill="none" stroke="#333" stroke-width="1.1"/>
<path d="M 500 292 L 502 289.5 M 506 292 L 509 289.5 L 512 292 L 515 289.5 L 518 292" fill="none" stroke="#333" stroke-width="1.1"/>
<polyline points="570,194 570,281 526.5,281" fill="none" stroke="#8a8a8a" stroke-width="2.8" stroke-dasharray="4.5,2.5"/>
<text transform="translate(278.8,50.2) scale(0.8,1)" x="0" y="0" font-size="8.4" fill="#111" textLength="71.875" lengthAdjust="spacing" style="white-space:pre">BEDROOM  #2</text>
<line x1="278.8" y1="51.800000000000004" x2="336.3" y2="51.800000000000004" stroke="#111" stroke-width="0.9"/>
<text transform="translate(279.5,60.1) scale(0.8,1)" x="0" y="0" font-size="8.4" fill="#111" textLength="69.375" lengthAdjust="spacing" style="white-space:pre">10&#39;&#8211;10&quot;x12&#39;&#8211;6&quot;</text>
<text transform="translate(295,68.9) scale(0.8,1)" x="0" y="0" font-size="8.4" fill="#111" textLength="31.25" lengthAdjust="spacing" style="white-space:pre">8&#39;  CLG</text>
<text transform="translate(407,50.2) scale(0.8,1)" x="0" y="0" font-size="8.4" fill="#111" textLength="105.37500000000001" lengthAdjust="spacing" style="white-space:pre">BEDROOM  SUITE  #1</text>
<line x1="407" y1="51.800000000000004" x2="491.3" y2="51.800000000000004" stroke="#111" stroke-width="0.9"/>
<text transform="translate(422,60.1) scale(0.8,1)" x="0" y="0" font-size="8.4" fill="#111" textLength="64.75000000000001" lengthAdjust="spacing" style="white-space:pre">13&#39;&#8211;0&quot;x12&#39;&#8211;6&quot;</text>
<text transform="translate(423.8,68.4) scale(0.8,1)" x="0" y="0" font-size="8.4" fill="#111" textLength="60.874999999999986" lengthAdjust="spacing" style="white-space:pre">VAULTED  CLG</text>
<text transform="translate(240,368.4) scale(0.8,1)" x="0" y="0" font-size="8.4" fill="#111" textLength="70.37500000000001" lengthAdjust="spacing" style="white-space:pre">BEDROOM  #3</text>
<line x1="240" y1="370.0" x2="296.3" y2="370.0" stroke="#111" stroke-width="0.9"/>
<text transform="translate(237,377.8) scale(0.8,1)" x="0" y="0" font-size="8.4" fill="#111" textLength="77.25000000000001" lengthAdjust="spacing" style="white-space:pre">13&#39;&#8211;6&quot;&#177;x11&#39;&#8211;0&quot;&#177;</text>
<text transform="translate(256.3,386.9) scale(0.8,1)" x="0" y="0" font-size="8.4" fill="#111" textLength="29.624999999999986" lengthAdjust="spacing" style="white-space:pre">8&#39;  CLG</text>
<text transform="translate(542,258.9) scale(0.8,1)" x="0" y="0" font-size="8.4" fill="#111" textLength="28.125" lengthAdjust="spacing" style="white-space:pre">W.I.C.</text>
<line x1="542" y1="260.5" x2="564.5" y2="260.5" stroke="#111" stroke-width="0.9"/>
<text transform="translate(528.8,267.6) scale(0.8,1)" x="0" y="0" font-size="8.4" fill="#111" textLength="59.375" lengthAdjust="spacing" style="white-space:pre">5&#39;&#8211;0&quot;x8&#39;&#8211;10&quot;</text>
<rect x="201.5" y="464.3" width="5" height="5" rx="0" fill="none" stroke="#333" stroke-width="1.0"/>
<rect x="303.5" y="464.3" width="5" height="5" rx="0" fill="none" stroke="#333" stroke-width="1.0"/>
<line x1="360.5" y1="407" x2="360.5" y2="531.8" stroke="#2a2a2a" stroke-width="1.2" stroke-dasharray="6,3"/>
<line x1="588" y1="299" x2="588" y2="531.8" stroke="#2a2a2a" stroke-width="1.2" stroke-dasharray="6,3"/>
<line x1="360.5" y1="532.2" x2="588" y2="532.2" stroke="#2a2a2a" stroke-width="1.5" stroke-dasharray="6.5,3.5"/>
<line x1="368.5" y1="552.2" x2="579" y2="552.2" stroke="#2a2a2a" stroke-width="1.5" stroke-dasharray="6.5,3.5"/>
<line x1="368.5" y1="557.5" x2="579" y2="557.5" stroke="#2a2a2a" stroke-width="1.5" stroke-dasharray="6.5,3.5"/>
<line x1="389.7" y1="532.2" x2="389.7" y2="577.4" stroke="#222" stroke-width="1.8" stroke-dasharray="5,2"/>
<line x1="410.8" y1="532.2" x2="410.8" y2="577.4" stroke="#222" stroke-width="1.8" stroke-dasharray="5,2"/>
<line x1="432" y1="532.2" x2="432" y2="577.4" stroke="#222" stroke-width="1.8" stroke-dasharray="5,2"/>
<line x1="453" y1="532.2" x2="453" y2="577.4" stroke="#222" stroke-width="1.8" stroke-dasharray="5,2"/>
<line x1="474.2" y1="532.2" x2="474.2" y2="577.4" stroke="#222" stroke-width="1.8" stroke-dasharray="5,2"/>
<line x1="495.1" y1="532.2" x2="495.1" y2="577.4" stroke="#222" stroke-width="1.8" stroke-dasharray="5,2"/>
<line x1="516.2" y1="532.2" x2="516.2" y2="577.4" stroke="#222" stroke-width="1.8" stroke-dasharray="5,2"/>
<line x1="537.4" y1="532.2" x2="537.4" y2="577.4" stroke="#222" stroke-width="1.8" stroke-dasharray="5,2"/>
<line x1="558.5" y1="532.2" x2="558.5" y2="577.4" stroke="#222" stroke-width="1.8" stroke-dasharray="5,2"/>
<line x1="368.5" y1="532.2" x2="368.5" y2="577.4" stroke="#222" stroke-width="1.7" stroke-dasharray="5,2"/>
<line x1="373.4" y1="532.2" x2="373.4" y2="552" stroke="#222" stroke-width="1.5" stroke-dasharray="5,2"/>
<line x1="579" y1="532.2" x2="579" y2="577.4" stroke="#222" stroke-width="1.7" stroke-dasharray="5,2"/>
<line x1="574.1" y1="532.2" x2="574.1" y2="552" stroke="#222" stroke-width="1.5" stroke-dasharray="5,2"/>
<polyline points="366.5,532.1 366.5,537.5 368.5,537.5" fill="none" stroke="#222" stroke-width="1.0"/>
<polyline points="373.4,537.5 375.5,537.5 375.5,532.1" fill="none" stroke="#222" stroke-width="1.0"/>
<polyline points="572,532.1 572,537.5 574.1,537.5" fill="none" stroke="#222" stroke-width="1.0"/>
<polyline points="579,537.5 581.2,537.5 581.2,532.1" fill="none" stroke="#222" stroke-width="1.0"/>
<path d="M 344.3 599.8 A 17.6 17.8 0 0 1 379.5 599.8" fill="none" stroke="#222" stroke-width="1.2"/>
<text transform="translate(381,597.9) scale(0.8,1)" x="0" y="0" font-size="13.8" fill="#111" textLength="151.88" lengthAdjust="spacing" style="white-space:pre">UPPER  FLOOR  PLAN</text>
<line x1="345" y1="599.5" x2="503" y2="599.5" stroke="#111" stroke-width="1.6"/>
<text x="169" y="17" font-size="15.5" fill="#fff" stroke="#cfcfcf" stroke-width="0.5" textLength="54" lengthAdjust="spacingAndGlyphs" style="filter:drop-shadow(0.5px 1px 0.6px rgba(0,0,0,0.35))">&#169; 2026</text>
<circle cx="308" cy="23.2" r="1.6" fill="#111" stroke="none" stroke-width="0"/>
<circle cx="447.5" cy="23.2" r="1.6" fill="#111" stroke="none" stroke-width="0"/>
<circle cx="283.5" cy="404.2" r="1.6" fill="#111" stroke="none" stroke-width="0"/>
</svg>
</body></html>
